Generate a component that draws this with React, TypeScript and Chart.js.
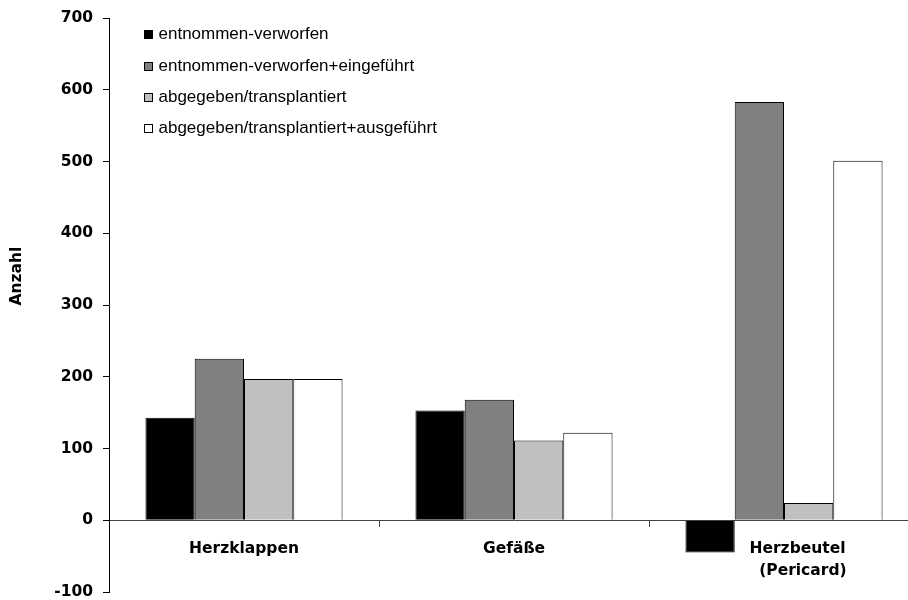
import React, { useEffect, useRef } from "react";
import { Chart, registerables } from "chart.js";

Chart.register(...registerables);

// ---- data ----
const categories: (string | string[])[] = [
  "Herzklappen",
  "Gefäße",
  ["     Herzbeutel", "       (Pericard)"],
];
const seriesNames = [
  "entnommen-verworfen",
  "entnommen-verworfen+eingeführt",
  "abgegeben/transplantiert",
  "abgegeben/transplantiert+ausgeführt",
];
const entnommenVerworfen = [143, 153, -45];
const entnommenVerworfenEingefuehrt = [225, 168, 583];
const abgegebenTransplantiert = [197, 111, 24];
const abgegebenTransplantiertAusgefuehrt = [197, 122, 501];
const yMin = -100;
const yMax = 700;
const yStep = 100;
const yTitle = "Anzahl";

// ---- style ----
const seriesColors = ["#000000", "#808080", "#c0c0c0", "#ffffff"];
const boldFont = "'DejaVu Sans', sans-serif";
const legendFont = "'Liberation Sans', Arial, sans-serif";

const overlayPlugin = {
  id: "overlay",
  afterDraw(chart: any) {
    const ctx = chart.ctx as CanvasRenderingContext2D;
    const area = chart.chartArea;
    // y-axis title
    ctx.save();
    ctx.font = `bold 15.5px ${boldFont}`;
    ctx.fillStyle = "#000";
    ctx.textAlign = "center";
    ctx.textBaseline = "middle";
    ctx.translate(17, 276);
    ctx.rotate(-Math.PI / 2);
    ctx.fillText(yTitle, 0, 0);
    ctx.restore();
    // legend inside the plot area
    ctx.save();
    ctx.font = `17px ${legendFont}`;
    ctx.textAlign = "left";
    ctx.textBaseline = "middle";
    chart.data.datasets.forEach((ds: any, i: number) => {
      const cy = area.top + 16.7 + i * 31.3;
      const bx = Math.round(area.left + 35);
      const by = Math.round(cy - 4.5);
      ctx.fillStyle = ds.backgroundColor;
      ctx.fillRect(bx, by, 9, 9);
      ctx.strokeStyle = "#000";
      ctx.lineWidth = 1;
      ctx.strokeRect(bx + 0.5, by + 0.5, 8, 8);
      ctx.fillStyle = "#000";
      ctx.fillText(ds.label, area.left + 49.5, cy);
    });
    ctx.restore();
  },
};

export default function App() {
  const canvasRef = useRef<HTMLCanvasElement | null>(null);

  useEffect(() => {
    const canvas = canvasRef.current;
    if (!canvas) return;
    const values = [
      entnommenVerworfen,
      entnommenVerworfenEingefuehrt,
      abgegebenTransplantiert,
      abgegebenTransplantiertAusgefuehrt,
    ];
    const chart = new Chart(canvas, {
      type: "bar",
      data: {
        labels: categories as any,
        datasets: seriesNames.map((name, i) => ({
          label: name,
          data: values[i],
          backgroundColor: seriesColors[i],
          borderColor: "#000",
          borderWidth: 1,
          categoryPercentage: 0.73,
          barPercentage: 1.0,
        })),
      },
      options: {
        animation: false,
        responsive: false,
        devicePixelRatio: 1,
        layout: { padding: { top: 18, bottom: 8, left: 0, right: 5 } },
        plugins: {
          legend: { display: false },
          tooltip: { enabled: false },
        },
        scales: {
          x: {
            type: "category",
            position: { y: 0 } as any,
            offset: true,
            grid: {
              offset: true,
              drawOnChartArea: false,
              drawTicks: true,
              tickLength: 6,
              color: "#444",
            },
            border: { display: true, color: "#444", width: 1 },
            ticks: {
              color: "#000",
              font: { family: boldFont, size: 15.5, weight: "bold", lineHeight: 1.42 },
              padding: 12,
              maxRotation: 0,
              minRotation: 0,
              autoSkip: false,
            },
          },
          y: {
            type: "linear",
            min: yMin,
            max: yMax,
            afterFit(scale: any) {
              scale.width = 109;
              scale.paddingTop = 0;
              scale.paddingBottom = 0;
            },
            grid: {
              drawOnChartArea: false,
              drawTicks: true,
              tickLength: 6,
              color: "#000",
            },
            border: { display: true, color: "#000", width: 1 },
            ticks: {
              stepSize: yStep,
              color: "#000",
              padding: 10,
              font: { family: boldFont, size: 15.5, weight: "bold", lineHeight: 1 },
            },
          },
        },
      },
      plugins: [overlayPlugin],
    });
    return () => chart.destroy();
  }, []);

  return (
    <div
      style={{
        position: "fixed",
        left: 0,
        top: 0,
        width: 908,
        height: 600,
        overflow: "hidden",
        background: "#fff",
      }}
    >
      <canvas ref={canvasRef} width={924} height={600} style={{ width: 924, height: 600, display: "block" }} />
    </div>
  );
}
